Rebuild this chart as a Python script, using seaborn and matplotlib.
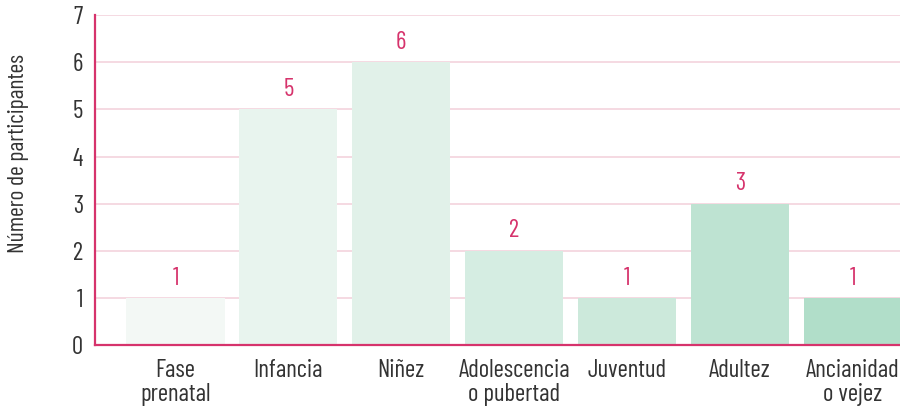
import matplotlib
matplotlib.use("Agg")
import matplotlib.pyplot as plt
import seaborn as sns
import pandas as pd

etapas = ["Fase\nprenatal", "Infancia", "Niñez", "Adolescencia\no pubertad",
          "Juventud", "Adultez", "Ancianidad\no vejez"]
participantes = [1, 5, 6, 2, 1, 3, 1]
colores = ["#f3f8f5", "#e8f4ee", "#e1f1e9", "#d5ede2", "#cce9db", "#bee3d2", "#b1dec9"]

ROSA = "#d6336c"
GRID = "#f3d3dd"
TEXTO = "#333333"

sns.set_theme(style="white")
plt.rcParams["font.family"] = ["Barlow Condensed", "Barlow Semi Condensed",
                               "Roboto Condensed", "Liberation Sans Narrow", "DejaVu Sans"]

df = pd.DataFrame({"etapa": etapas, "n": participantes})

fig, ax = plt.subplots(figsize=(9, 4.07), dpi=100)
fig.subplots_adjust(left=0.106, right=1.0, top=0.963, bottom=0.152)

sns.barplot(data=df, x="etapa", y="n", hue="etapa", palette=colores,
            legend=False, width=0.87, saturation=1, linewidth=0, ax=ax, zorder=2)

for c, v in zip(ax.containers, participantes):
    ax.bar_label(c, labels=[str(v)], padding=6, color=ROSA, fontsize=18)

ax.set_ylim(0, 7)
ax.set_xlim(-0.71, 6.42)
ax.set_yticks(range(0, 8))
ax.yaxis.grid(True, color=GRID, linewidth=1.2, zorder=0)
ax.set_axisbelow(True)

for s in ["top", "right"]:
    ax.spines[s].set_visible(False)
for s in ["left", "bottom"]:
    ax.spines[s].set_color(ROSA)
    ax.spines[s].set_linewidth(1.6)

ax.tick_params(axis="both", length=0, labelsize=18, colors=TEXTO)
ax.tick_params(axis="x", pad=10)
ax.tick_params(axis="y", pad=9)
for t in ax.get_xticklabels():
    t.set_linespacing(1.05)
ax.set_xlabel("")
ax.set_ylabel("Número de participantes", fontsize=17, color=TEXTO)
ax.yaxis.set_label_coords(-0.083, 0.58)

fig.savefig("out.png", dpi=100)
